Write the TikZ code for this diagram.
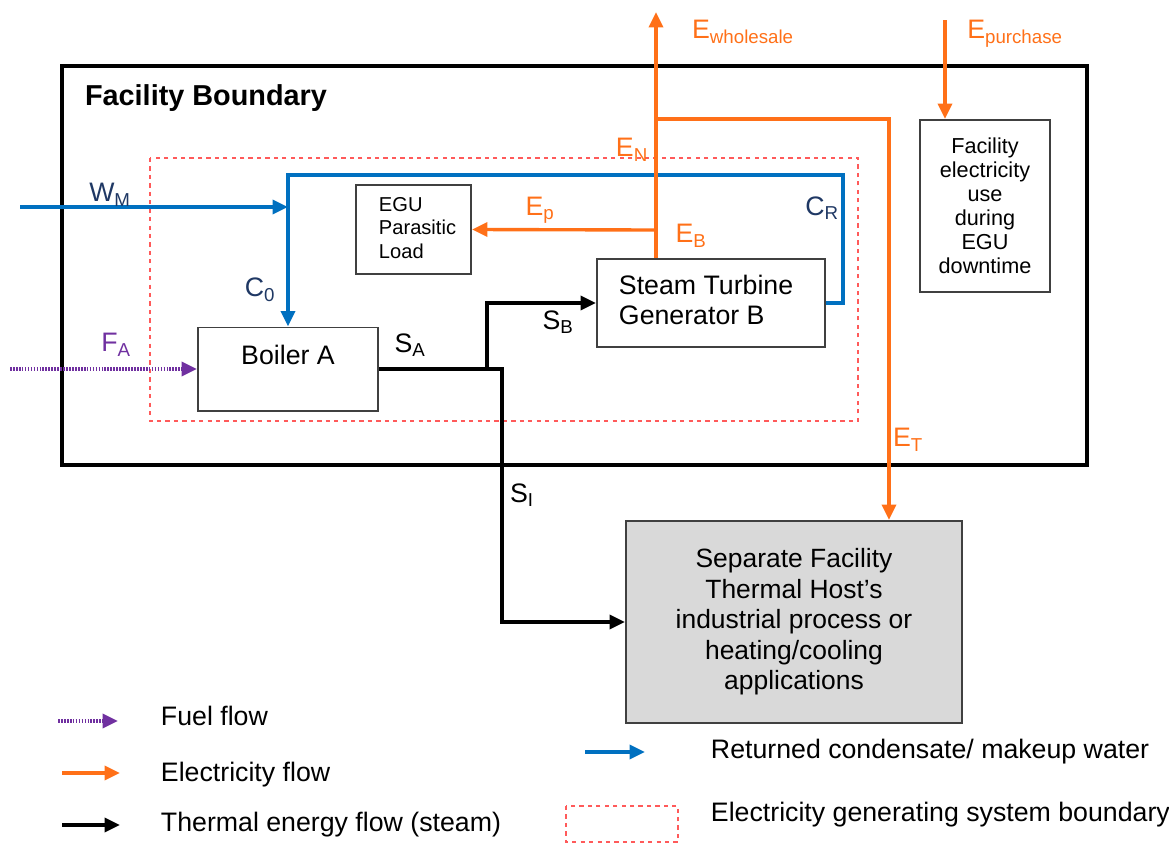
\documentclass[tikz,border=0pt]{standalone}
\usepackage{fontspec}
\setmainfont{Liberation Sans}
\usetikzlibrary{arrows.meta}
\definecolor{elec}{RGB}{255,112,24}
\definecolor{water}{RGB}{0,112,192}
\definecolor{fuel}{RGB}{112,48,160}
\definecolor{navy}{RGB}{31,56,100}
\definecolor{egsb}{RGB}{255,90,90}
\definecolor{host}{RGB}{217,217,217}
\tikzset{
  unit/.style={draw=black!75, line width=1.4pt, inner sep=0pt},
  flow/.style={line width=2.4pt, -{Triangle[length=11pt,width=10pt]}},
  fuelflow/.style={flow, fuel, dash pattern=on 1.2pt off 0.9pt},
  lbl/.style={font=\fontsize{19}{21.5}\selectfont},
}
\begin{document}
\begin{tikzpicture}[x=0.025cm,y=-0.025cm]
    \useasboundingbox (0,0) rectangle (1169,842);
    \draw [black,line width=3.5pt] (62,66) rectangle (1087,465);
    \node [font=\bfseries\fontsize{20.5}{24}\selectfont] (fbound) at (206,98) {Facility Boundary};
    \draw [egsb,dashed,line width=0.9pt] (150,158) rectangle (858,421);
    \node [unit, minimum width=4.5cm, minimum height=2.075cm] (boiler) at (288,369) {};
    \node [lbl] (boilertxt) at (288,355) {Boiler A};
    \node [unit, minimum width=2.875cm, minimum height=2.225cm] (parasitic) at (413.5,229.5) {};
    \node [font=\fontsize{14.3}{16.5}\selectfont, align=left, anchor=west] (parasitictxt) at (374,228) {EGU\\Parasitic\\Load};
    \node [unit, minimum width=5.7cm, minimum height=2.2cm] (turbine) at (711,303) {};
    \node [lbl, align=left, anchor=west] (turbinetxt) at (614,300) {Steam Turbine\\Generator B};
    \node [unit, minimum width=3.25cm, minimum height=4.3cm, align=center, font=\fontsize{15.4}{17}\selectfont] (useb) at (985,206) {Facility\\electricity\\use\\during\\EGU\\downtime};
    \node [unit, fill=host, minimum width=8.4cm, minimum height=5.05cm, align=center, font=\fontsize{18.8}{21.7}\selectfont] (sepfac) at (794,622) {Separate Facility\\Thermal Host’s\\industrial process or\\heating/cooling\\applications};
    \coordinate (wmin) at (20,207);
    \draw [flow,water] (wmin) -- (boiler.north |- wmin);
    \draw [flow,water] (turbine.east) -| (843,175) -| (boiler.north);
    \coordinate (fuelin) at (10,369);
    \draw [fuelflow] (fuelin) -- (boiler.west);
    \coordinate (split) at (487,369);
    \coordinate (drop) at (502,369);
    \draw [flow] (split) |- (turbine.west);
    \draw [flow] (boiler.east) -- (drop) |- (sepfac.west);
    \coordinate (grid) at (656,12);
    \draw [flow,elec] (grid |- turbine.north) -- (grid);
    \coordinate (ep) at (656,230);
    \draw [flow,elec] (ep) -- (parasitic.east);
    \coordinate (en) at (656,119);
    \coordinate (et) at (889,119);
    \draw [flow,elec] (en) -- (et) -- (sepfac.north -| et);
    \coordinate (buy) at (945,20);
    \draw [flow,elec] (buy) -- (buy |- useb.north);
    \node [lbl,navy] (wm) at (110,195) {W\textsubscript{M}};
    \node [lbl,navy] (c0) at (260,290) {C\textsubscript{0}};
    \node [lbl,navy] (cr) at (822,208) {C\textsubscript{R}};
    \node [lbl,fuel] (fa) at (116,345) {F\textsubscript{A}};
    \node [lbl] (sa) at (410,345) {S\textsubscript{A}};
    \node [lbl] (sb) at (558,322) {S\textsubscript{B}};
    \node [lbl] (si) at (522,495) {S\textsubscript{I}};
    \node [lbl,elec] (epl) at (540,210) {E\textsubscript{p}};
    \node [lbl,elec] (ebl) at (691,236) {E\textsubscript{B}};
    \node [lbl,elec] (enl) at (632,150) {E\textsubscript{N}};
    \node [lbl,elec] (etl) at (908,440) {E\textsubscript{T}};
    \node [lbl,elec] (ewl) at (743,32) {E\textsubscript{wholesale}};
    \node [lbl,elec] (epul) at (1015,34) {E\textsubscript{purchase}};
    \coordinate (lfa) at (58,721);
    \coordinate (lfb) at (118,721);
    \draw [fuelflow] (lfa) -- (lfb);
    \node [lbl,anchor=west] (lfuel) at (156,716) {Fuel flow};
    \coordinate (lea) at (62,773);
    \coordinate (leb) at (120,773);
    \draw [flow,elec] (lea) -- (leb);
    \node [lbl,anchor=west] (lelec) at (156,775) {Electricity flow};
    \coordinate (lta) at (62,825);
    \coordinate (ltb) at (120,825);
    \draw [flow] (lta) -- (ltb);
    \node [lbl,anchor=west] (ltherm) at (156,825) {Thermal energy flow (steam)};
    \coordinate (lwa) at (585,752);
    \coordinate (lwb) at (645,752);
    \draw [flow,water] (lwa) -- (lwb);
    \node [lbl,anchor=west] (lwater) at (706,752) {Returned condensate/ makeup water};
    \draw [egsb,dashed,line width=0.9pt] (566,806) rectangle (678,842);
    \node [lbl,anchor=west] (legsb) at (706,815) {Electricity generating system boundary};
  \end{tikzpicture}
\end{document}
